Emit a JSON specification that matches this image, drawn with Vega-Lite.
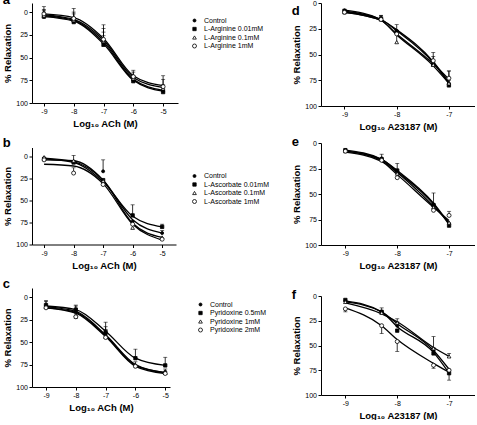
{
"$schema": "https://vega.github.io/schema/vega-lite/v6.json",
"padding": {"left": 2, "top": -6, "right": 0, "bottom": 0},
"config": {
 "view": {"stroke": null},
 "font": "Liberation Sans",
 "axis": {"domainColor": "black", "tickColor": "black", "labelColor": "black", "titleColor": "black", "labelFontSize": 7, "titleFontSize": 9.5, "titleFontWeight": "bold", "tickSize": 3, "labelPadding": 1.5, "grid": false, "domainWidth": 1, "tickWidth": 1, "labelFont": "Liberation Sans", "titleFont": "Liberation Sans", "labelOverlap": false},
 "axisY": {"titlePadding": 3},
 "axisX": {"titlePadding": 4},
 "title": {"fontSize": 13, "fontWeight": "bold", "anchor": "start", "frame": "bounds", "font": "Liberation Sans", "color": "black", "baseline": "alphabetic"},
 "legend": {"labelFontSize": 7, "labelFont": "Liberation Sans", "labelColor": "black", "symbolStrokeColor": "black", "symbolStrokeWidth": 0.8, "rowPadding": 0.5, "labelOffset": 6, "padding": 0, "orient": "none", "direction": "vertical", "title": null}
},
"datasets": {"pts": [
{"p":"a","s":"Control","x":-9,"v":5,"f":4,"e":-3},{"p":"a","s":"Control","x":-8,"v":10,"f":9,"e":2},{"p":"a","s":"Control","x":-7,"v":34,"f":33,"e":22},{"p":"a","s":"Control","x":-6,"v":75,"f":74,"e":70},{"p":"a","s":"Control","x":-5,"v":87,"f":86,"e":80},
{"p":"a","s":"L-Arginine 0.01mM","x":-9,"v":5,"f":5,"e":0},{"p":"a","s":"L-Arginine 0.01mM","x":-8,"v":11,"f":10,"e":6},{"p":"a","s":"L-Arginine 0.01mM","x":-7,"v":36,"f":35,"e":26},{"p":"a","s":"L-Arginine 0.01mM","x":-6,"v":76,"f":75,"e":72},{"p":"a","s":"L-Arginine 0.01mM","x":-5,"v":88,"f":87,"e":84},
{"p":"a","s":"L-Arginine 0.1mM","x":-9,"v":4,"f":3,"e":-6},{"p":"a","s":"L-Arginine 0.1mM","x":-8,"v":9,"f":8,"e":-4},{"p":"a","s":"L-Arginine 0.1mM","x":-7,"v":32,"f":31,"e":14},{"p":"a","s":"L-Arginine 0.1mM","x":-6,"v":73,"f":72,"e":64},{"p":"a","s":"L-Arginine 0.1mM","x":-5,"v":84,"f":83,"e":70},
{"p":"a","s":"L-Arginine 1mM","x":-9,"v":2,"f":2,"e":-2},{"p":"a","s":"L-Arginine 1mM","x":-8,"v":7,"f":6,"e":0},{"p":"a","s":"L-Arginine 1mM","x":-7,"v":30,"f":29,"e":18},{"p":"a","s":"L-Arginine 1mM","x":-6,"v":71,"f":70,"e":66},{"p":"a","s":"L-Arginine 1mM","x":-5,"v":82,"f":81,"e":74},
{"p":"b","s":"Control","x":-9,"v":2,"f":2},{"p":"b","s":"Control","x":-8,"v":6,"f":6},{"p":"b","s":"Control","x":-7,"v":17,"f":27,"e":4},{"p":"b","s":"Control","x":-6,"v":74,"f":72},{"p":"b","s":"Control","x":-5,"v":87,"f":87,"e":84},
{"p":"b","s":"L-Ascorbate 0.01mM","x":-9,"v":3,"f":3},{"p":"b","s":"L-Ascorbate 0.01mM","x":-8,"v":7,"f":7,"e":-1},{"p":"b","s":"L-Ascorbate 0.01mM","x":-7,"v":27,"f":29},{"p":"b","s":"L-Ascorbate 0.01mM","x":-6,"v":67,"f":68,"e":55},{"p":"b","s":"L-Ascorbate 0.01mM","x":-5,"v":80,"f":80,"e":77},
{"p":"b","s":"L-Ascorbate 0.1mM","x":-9,"v":1,"f":4},{"p":"b","s":"L-Ascorbate 0.1mM","x":-8,"v":5,"f":5},{"p":"b","s":"L-Ascorbate 0.1mM","x":-7,"v":28,"f":27},{"p":"b","s":"L-Ascorbate 0.1mM","x":-6,"v":81,"f":76},{"p":"b","s":"L-Ascorbate 0.1mM","x":-5,"v":92,"f":92},
{"p":"b","s":"L-Ascorbate 1mM","x":-9,"v":4,"f":9},{"p":"b","s":"L-Ascorbate 1mM","x":-8,"v":19,"f":11,"e":13},{"p":"b","s":"L-Ascorbate 1mM","x":-7,"v":32,"f":31},{"p":"b","s":"L-Ascorbate 1mM","x":-6,"v":77,"f":77},{"p":"b","s":"L-Ascorbate 1mM","x":-5,"v":94,"f":95},
{"p":"c","s":"Control","x":-9,"v":10,"f":11,"e":5},{"p":"c","s":"Control","x":-8,"v":17,"f":16,"e":10},{"p":"c","s":"Control","x":-7,"v":42,"f":42,"e":33},{"p":"c","s":"Control","x":-6,"v":76,"f":75,"e":72},{"p":"c","s":"Control","x":-5,"v":83,"f":84,"e":80},
{"p":"c","s":"Pyridoxine 0.5mM","x":-9,"v":9,"f":10,"e":4},{"p":"c","s":"Pyridoxine 0.5mM","x":-8,"v":14,"f":14,"e":9},{"p":"c","s":"Pyridoxine 0.5mM","x":-7,"v":39,"f":38,"e":28},{"p":"c","s":"Pyridoxine 0.5mM","x":-6,"v":68,"f":68,"e":58},{"p":"c","s":"Pyridoxine 0.5mM","x":-5,"v":76,"f":76,"e":67},
{"p":"c","s":"Pyridoxine 1mM","x":-9,"v":11,"f":12},{"p":"c","s":"Pyridoxine 1mM","x":-8,"v":20,"f":17,"e":24},{"p":"c","s":"Pyridoxine 1mM","x":-7,"v":44,"f":43,"e":36},{"p":"c","s":"Pyridoxine 1mM","x":-6,"v":76,"f":76},{"p":"c","s":"Pyridoxine 1mM","x":-5,"v":84,"f":84,"e":86},
{"p":"c","s":"Pyridoxine 2mM","x":-9,"v":12,"f":12},{"p":"c","s":"Pyridoxine 2mM","x":-8,"v":22,"f":18},{"p":"c","s":"Pyridoxine 2mM","x":-7,"v":45,"f":44},{"p":"c","s":"Pyridoxine 2mM","x":-6,"v":77,"f":77},{"p":"c","s":"Pyridoxine 2mM","x":-5,"v":85,"f":85},
{"p":"d","s":"Control","x":-9,"v":7,"f":7},{"p":"d","s":"Control","x":-8.3,"v":15,"f":16,"e":12},{"p":"d","s":"Control","x":-8,"v":27,"f":26,"e":21},{"p":"d","s":"Control","x":-7.3,"v":58,"f":57,"e":48},{"p":"d","s":"Control","x":-7,"v":78,"f":77,"e":66},
{"p":"d","s":"L-Arginine 0.01mM","x":-9,"v":8,"f":8},{"p":"d","s":"L-Arginine 0.01mM","x":-8.3,"v":15,"f":16,"e":12},{"p":"d","s":"L-Arginine 0.01mM","x":-8,"v":28,"f":27},{"p":"d","s":"L-Arginine 0.01mM","x":-7.3,"v":60,"f":58,"e":52},{"p":"d","s":"L-Arginine 0.01mM","x":-7,"v":80,"f":78,"e":75},
{"p":"d","s":"L-Arginine 0.1mM","x":-9,"v":9,"f":9,"e":6},{"p":"d","s":"L-Arginine 0.1mM","x":-8.3,"v":16,"f":17},{"p":"d","s":"L-Arginine 0.1mM","x":-8,"v":38,"f":31,"e":29},{"p":"d","s":"L-Arginine 0.1mM","x":-7.3,"v":60,"f":61},{"p":"d","s":"L-Arginine 0.1mM","x":-7,"v":78,"f":78},
{"p":"d","s":"L-Arginine 1mM","x":-9,"v":9,"f":9},{"p":"d","s":"L-Arginine 1mM","x":-8.3,"v":16,"f":17},{"p":"d","s":"L-Arginine 1mM","x":-8,"v":30,"f":30},{"p":"d","s":"L-Arginine 1mM","x":-7.3,"v":56,"f":59},{"p":"d","s":"L-Arginine 1mM","x":-7,"v":73,"f":74,"e":66},
{"p":"e","s":"Control","x":-9,"v":7,"f":7},{"p":"e","s":"Control","x":-8.3,"v":15,"f":16,"e":11},{"p":"e","s":"Control","x":-8,"v":28,"f":27,"e":20},{"p":"e","s":"Control","x":-7.3,"v":60,"f":59,"e":49},{"p":"e","s":"Control","x":-7,"v":79,"f":79},
{"p":"e","s":"L-Ascorbate 0.01mM","x":-9,"v":7,"f":8},{"p":"e","s":"L-Ascorbate 0.01mM","x":-8.3,"v":16,"f":16},{"p":"e","s":"L-Ascorbate 0.01mM","x":-8,"v":27,"f":28},{"p":"e","s":"L-Ascorbate 0.01mM","x":-7.3,"v":61,"f":60},{"p":"e","s":"L-Ascorbate 0.01mM","x":-7,"v":81,"f":80},
{"p":"e","s":"L-Ascorbate 0.1mM","x":-9,"v":8,"f":8},{"p":"e","s":"L-Ascorbate 0.1mM","x":-8.3,"v":16,"f":17},{"p":"e","s":"L-Ascorbate 0.1mM","x":-8,"v":30,"f":29},{"p":"e","s":"L-Ascorbate 0.1mM","x":-7.3,"v":63,"f":62},{"p":"e","s":"L-Ascorbate 0.1mM","x":-7,"v":78,"f":78},
{"p":"e","s":"L-Ascorbate 1mM","x":-9,"v":8,"f":9},{"p":"e","s":"L-Ascorbate 1mM","x":-8.3,"v":17,"f":18},{"p":"e","s":"L-Ascorbate 1mM","x":-8,"v":34,"f":31},{"p":"e","s":"L-Ascorbate 1mM","x":-7.3,"v":66,"f":63},{"p":"e","s":"L-Ascorbate 1mM","x":-7,"v":71,"f":76,"e":67},
{"p":"f","s":"Control","x":-9,"v":5,"f":6},{"p":"f","s":"Control","x":-8.3,"v":16,"f":16,"e":12},{"p":"f","s":"Control","x":-8,"v":30,"f":28,"e":26},{"p":"f","s":"Control","x":-7.3,"v":55,"f":55},{"p":"f","s":"Control","x":-7,"v":75,"f":74},
{"p":"f","s":"Pyridoxine 0.5mM","x":-9,"v":4,"f":5},{"p":"f","s":"Pyridoxine 0.5mM","x":-8.3,"v":16,"f":16},{"p":"f","s":"Pyridoxine 0.5mM","x":-8,"v":35,"f":31},{"p":"f","s":"Pyridoxine 0.5mM","x":-7.3,"v":58,"f":57,"e":52},{"p":"f","s":"Pyridoxine 0.5mM","x":-7,"v":78,"f":78,"e":85},
{"p":"f","s":"Pyridoxine 1mM","x":-9,"v":6,"f":7},{"p":"f","s":"Pyridoxine 1mM","x":-8.3,"v":17,"f":18},{"p":"f","s":"Pyridoxine 1mM","x":-8,"v":27,"f":26,"e":23},{"p":"f","s":"Pyridoxine 1mM","x":-7.3,"v":53,"f":52,"e":41},{"p":"f","s":"Pyridoxine 1mM","x":-7,"v":61,"f":61,"e":58},
{"p":"f","s":"Pyridoxine 2mM","x":-9,"v":13,"f":12,"e":16},{"p":"f","s":"Pyridoxine 2mM","x":-8.3,"v":30,"f":30,"e":38},{"p":"f","s":"Pyridoxine 2mM","x":-8,"v":46,"f":44,"e":56},{"p":"f","s":"Pyridoxine 2mM","x":-7.3,"v":70,"f":68,"e":73},{"p":"f","s":"Pyridoxine 2mM","x":-7,"v":75,"f":77}
]},
"resolve": {"scale": {"shape": "independent", "fill": "independent", "size": "independent", "stroke": "independent"}, "legend": {"shape": "independent", "fill": "independent", "size": "independent", "stroke": "independent"}},
"spacing": 22,
"hconcat": [
{"spacing": 8.5,
 "resolve": {"scale": {"shape": "independent", "fill": "independent", "size": "independent", "stroke": "independent"}, "legend": {"shape": "independent", "fill": "independent", "size": "independent", "stroke": "independent"}},
 "vconcat": [
 {"width": 146, "height": 100, "title": {"text": "a", "offset": -4},
  "data": {"name": "pts"}, "transform": [{"filter": "datum.p == 'a'"}],
  "encoding": {"x": {"field": "x", "type": "quantitative", "scale": {"domain": [-9.4, -4.5], "nice": false, "zero": false}, "axis": {"values": [-9, -8, -7, -6, -5], "labelExpr": "'' + datum.value", "title": "Log₁₀ ACh (M)"}}},
  "layer": [
   {"mark": {"type": "rule", "color": "black", "strokeWidth": 0.8}, "encoding": {"y": {"field": "v", "type": "quantitative", "scale": {"domain": [-10, 100], "reverse": true, "nice": false, "zero": false}, "axis": {"values": [0, 25, 50, 75, 100], "title": "% Relaxation"}}, "y2": {"field": "e"}}},
   {"mark": {"type": "tick", "orient": "horizontal", "color": "black", "size": 4, "thickness": 0.8}, "encoding": {"y": {"field": "e", "type": "quantitative", "scale": {"domain": [-10, 100], "reverse": true, "nice": false, "zero": false}, "axis": {"values": [0, 25, 50, 75, 100], "title": "% Relaxation"}}}},
   {"mark": {"type": "line", "interpolate": "monotone", "color": "black", "strokeWidth": 1.3}, "encoding": {"y": {"field": "f", "type": "quantitative", "scale": {"domain": [-10, 100], "reverse": true, "nice": false, "zero": false}, "axis": {"values": [0, 25, 50, 75, 100], "title": "% Relaxation"}}, "detail": {"field": "s"}}},
   {"mark": {"type": "point", "filled": true, "strokeWidth": 0.8, "opacity": 1}, "encoding": {"y": {"field": "v", "type": "quantitative", "scale": {"domain": [-10, 100], "reverse": true, "nice": false, "zero": false}, "axis": {"values": [0, 25, 50, 75, 100], "title": "% Relaxation"}},
     "shape": {"field": "s", "type": "ordinal", "scale": {"domain": ["Control", "L-Arginine 0.01mM", "L-Arginine 0.1mM", "L-Arginine 1mM"], "range": ["circle", "square", "triangle-up", "circle"]}, "legend": {"legendX": 159, "legendY": 14, "labelColor": "black"}},
     "fill": {"field": "s", "type": "ordinal", "scale": {"domain": ["Control", "L-Arginine 0.01mM", "L-Arginine 0.1mM", "L-Arginine 1mM"], "range": ["black", "black", "white", "white"]}, "legend": {"legendX": 159, "legendY": 14, "labelColor": "black"}},
     "stroke": {"field": "s", "type": "ordinal", "scale": {"domain": ["Control", "L-Arginine 0.01mM", "L-Arginine 0.1mM", "L-Arginine 1mM"], "range": ["black", "black", "black", "black"]}, "legend": {"legendX": 159, "legendY": 14, "labelColor": "black"}},
     "size": {"field": "s", "type": "ordinal", "scale": {"domain": ["Control", "L-Arginine 0.01mM", "L-Arginine 0.1mM", "L-Arginine 1mM"], "range": [9, 16, 18, 14]}, "legend": {"legendX": 159, "legendY": 14, "labelColor": "black"}}}}
  ]},
 {"width": 144, "height": 97, "title": {"text": "b", "offset": -2},
  "data": {"name": "pts"}, "transform": [{"filter": "datum.p == 'b'"}],
  "encoding": {"x": {"field": "x", "type": "quantitative", "scale": {"domain": [-9.41, -4.53], "nice": false, "zero": false}, "axis": {"values": [-9, -8, -7, -6, -5], "labelExpr": "'' + datum.value", "title": "Log₁₀ ACh (M)"}}},
  "layer": [
   {"mark": {"type": "rule", "color": "black", "strokeWidth": 0.8}, "encoding": {"y": {"field": "v", "type": "quantitative", "scale": {"domain": [-10, 100], "reverse": true, "nice": false, "zero": false}, "axis": {"values": [0, 25, 50, 75, 100], "title": "% Relaxation"}}, "y2": {"field": "e"}}},
   {"mark": {"type": "tick", "orient": "horizontal", "color": "black", "size": 4, "thickness": 0.8}, "encoding": {"y": {"field": "e", "type": "quantitative", "scale": {"domain": [-10, 100], "reverse": true, "nice": false, "zero": false}, "axis": {"values": [0, 25, 50, 75, 100], "title": "% Relaxation"}}}},
   {"mark": {"type": "line", "interpolate": "monotone", "color": "black", "strokeWidth": 1.3}, "encoding": {"y": {"field": "f", "type": "quantitative", "scale": {"domain": [-10, 100], "reverse": true, "nice": false, "zero": false}, "axis": {"values": [0, 25, 50, 75, 100], "title": "% Relaxation"}}, "detail": {"field": "s"}}},
   {"mark": {"type": "point", "filled": true, "strokeWidth": 0.8, "opacity": 1}, "encoding": {"y": {"field": "v", "type": "quantitative", "scale": {"domain": [-10, 100], "reverse": true, "nice": false, "zero": false}, "axis": {"values": [0, 25, 50, 75, 100], "title": "% Relaxation"}},
     "shape": {"field": "s", "type": "ordinal", "scale": {"domain": ["Control", "L-Ascorbate 0.01mM", "L-Ascorbate 0.1mM", "L-Ascorbate 1mM"], "range": ["circle", "square", "triangle-up", "circle"]}, "legend": {"legendX": 159, "legendY": 25, "labelColor": "black"}},
     "fill": {"field": "s", "type": "ordinal", "scale": {"domain": ["Control", "L-Ascorbate 0.01mM", "L-Ascorbate 0.1mM", "L-Ascorbate 1mM"], "range": ["black", "black", "white", "white"]}, "legend": {"legendX": 159, "legendY": 25, "labelColor": "black"}},
     "stroke": {"field": "s", "type": "ordinal", "scale": {"domain": ["Control", "L-Ascorbate 0.01mM", "L-Ascorbate 0.1mM", "L-Ascorbate 1mM"], "range": ["black", "black", "black", "black"]}, "legend": {"legendX": 159, "legendY": 25, "labelColor": "black"}},
     "size": {"field": "s", "type": "ordinal", "scale": {"domain": ["Control", "L-Ascorbate 0.01mM", "L-Ascorbate 0.1mM", "L-Ascorbate 1mM"], "range": [9, 16, 18, 14]}, "legend": {"legendX": 159, "legendY": 25, "labelColor": "black"}}}}
  ]},
 {"width": 138, "height": 99, "title": {"text": "c", "offset": -3},
  "data": {"name": "pts"}, "transform": [{"filter": "datum.p == 'c'"}],
  "encoding": {"x": {"field": "x", "type": "quantitative", "scale": {"domain": [-9.47, -4.84], "nice": false, "zero": false}, "axis": {"values": [-9, -8, -7, -6, -5], "labelExpr": "'' + datum.value", "title": "Log₁₀ ACh (M)"}}},
  "layer": [
   {"mark": {"type": "rule", "color": "black", "strokeWidth": 0.8}, "encoding": {"y": {"field": "v", "type": "quantitative", "scale": {"domain": [-10, 100], "reverse": true, "nice": false, "zero": false}, "axis": {"values": [0, 25, 50, 75, 100], "title": "% Relaxation"}}, "y2": {"field": "e"}}},
   {"mark": {"type": "tick", "orient": "horizontal", "color": "black", "size": 4, "thickness": 0.8}, "encoding": {"y": {"field": "e", "type": "quantitative", "scale": {"domain": [-10, 100], "reverse": true, "nice": false, "zero": false}, "axis": {"values": [0, 25, 50, 75, 100], "title": "% Relaxation"}}}},
   {"mark": {"type": "line", "interpolate": "monotone", "color": "black", "strokeWidth": 1.3}, "encoding": {"y": {"field": "f", "type": "quantitative", "scale": {"domain": [-10, 100], "reverse": true, "nice": false, "zero": false}, "axis": {"values": [0, 25, 50, 75, 100], "title": "% Relaxation"}}, "detail": {"field": "s"}}},
   {"mark": {"type": "point", "filled": true, "strokeWidth": 0.8, "opacity": 1}, "encoding": {"y": {"field": "v", "type": "quantitative", "scale": {"domain": [-10, 100], "reverse": true, "nice": false, "zero": false}, "axis": {"values": [0, 25, 50, 75, 100], "title": "% Relaxation"}},
     "shape": {"field": "s", "type": "ordinal", "scale": {"domain": ["Control", "Pyridoxine 0.5mM", "Pyridoxine 1mM", "Pyridoxine 2mM"], "range": ["circle", "square", "triangle-up", "circle"]}, "legend": {"legendX": 165, "legendY": 13, "labelColor": "black"}},
     "fill": {"field": "s", "type": "ordinal", "scale": {"domain": ["Control", "Pyridoxine 0.5mM", "Pyridoxine 1mM", "Pyridoxine 2mM"], "range": ["black", "black", "white", "white"]}, "legend": {"legendX": 165, "legendY": 13, "labelColor": "black"}},
     "stroke": {"field": "s", "type": "ordinal", "scale": {"domain": ["Control", "Pyridoxine 0.5mM", "Pyridoxine 1mM", "Pyridoxine 2mM"], "range": ["black", "black", "black", "black"]}, "legend": {"legendX": 165, "legendY": 13, "labelColor": "black"}},
     "size": {"field": "s", "type": "ordinal", "scale": {"domain": ["Control", "Pyridoxine 0.5mM", "Pyridoxine 1mM", "Pyridoxine 2mM"], "range": [9, 16, 18, 14]}, "legend": {"legendX": 165, "legendY": 13, "labelColor": "black"}}}}
  ]}
 ]},
{"spacing": 5,
 "resolve": {"scale": {"shape": "independent", "fill": "independent", "size": "independent", "stroke": "independent"}, "legend": {"shape": "independent", "fill": "independent", "size": "independent", "stroke": "independent"}},
 "vconcat": [
 {"width": 154, "height": 103, "title": {"text": "d", "offset": -19},
  "data": {"name": "pts"}, "transform": [{"filter": "datum.p == 'd'"}],
  "encoding": {"x": {"field": "x", "type": "quantitative", "scale": {"domain": [-9.45, -6.5], "nice": false, "zero": false}, "axis": {"values": [-9, -8, -7], "labelExpr": "'' + datum.value", "title": "Log₁₀ A23187 (M)"}}},
  "layer": [
   {"mark": {"type": "rule", "color": "black", "strokeWidth": 0.8}, "encoding": {"y": {"field": "v", "type": "quantitative", "scale": {"domain": [0, 100], "reverse": true, "nice": false, "zero": false}, "axis": {"values": [0, 25, 50, 75, 100], "title": "% Relaxation"}}, "y2": {"field": "e"}}},
   {"mark": {"type": "tick", "orient": "horizontal", "color": "black", "size": 4, "thickness": 0.8}, "encoding": {"y": {"field": "e", "type": "quantitative", "scale": {"domain": [0, 100], "reverse": true, "nice": false, "zero": false}, "axis": {"values": [0, 25, 50, 75, 100], "title": "% Relaxation"}}}},
   {"mark": {"type": "line", "interpolate": "monotone", "color": "black", "strokeWidth": 1.3}, "encoding": {"y": {"field": "f", "type": "quantitative", "scale": {"domain": [0, 100], "reverse": true, "nice": false, "zero": false}, "axis": {"values": [0, 25, 50, 75, 100], "title": "% Relaxation"}}, "detail": {"field": "s"}}},
   {"mark": {"type": "point", "filled": true, "strokeWidth": 0.8, "opacity": 1}, "encoding": {"y": {"field": "v", "type": "quantitative", "scale": {"domain": [0, 100], "reverse": true, "nice": false, "zero": false}, "axis": {"values": [0, 25, 50, 75, 100], "title": "% Relaxation"}},
     "shape": {"field": "s", "type": "ordinal", "scale": {"domain": ["Control", "L-Arginine 0.01mM", "L-Arginine 0.1mM", "L-Arginine 1mM"], "range": ["circle", "square", "triangle-up", "circle"]}, "legend": null},
     "fill": {"field": "s", "type": "ordinal", "scale": {"domain": ["Control", "L-Arginine 0.01mM", "L-Arginine 0.1mM", "L-Arginine 1mM"], "range": ["black", "black", "white", "white"]}, "legend": null},
     "stroke": {"field": "s", "type": "ordinal", "scale": {"domain": ["Control", "L-Arginine 0.01mM", "L-Arginine 0.1mM", "L-Arginine 1mM"], "range": ["black", "black", "black", "black"]}, "legend": null},
     "size": {"field": "s", "type": "ordinal", "scale": {"domain": ["Control", "L-Arginine 0.01mM", "L-Arginine 0.1mM", "L-Arginine 1mM"], "range": [9, 16, 18, 14]}, "legend": null}}}
  ]},
 {"width": 154, "height": 102, "title": {"text": "e", "offset": -10},
  "data": {"name": "pts"}, "transform": [{"filter": "datum.p == 'e'"}],
  "encoding": {"x": {"field": "x", "type": "quantitative", "scale": {"domain": [-9.47, -6.5], "nice": false, "zero": false}, "axis": {"values": [-9, -8, -7], "labelExpr": "'' + datum.value", "title": "Log₁₀ A23187 (M)"}}},
  "layer": [
   {"mark": {"type": "rule", "color": "black", "strokeWidth": 0.8}, "encoding": {"y": {"field": "v", "type": "quantitative", "scale": {"domain": [0, 100], "reverse": true, "nice": false, "zero": false}, "axis": {"values": [0, 25, 50, 75, 100], "title": "% Relaxation"}}, "y2": {"field": "e"}}},
   {"mark": {"type": "tick", "orient": "horizontal", "color": "black", "size": 4, "thickness": 0.8}, "encoding": {"y": {"field": "e", "type": "quantitative", "scale": {"domain": [0, 100], "reverse": true, "nice": false, "zero": false}, "axis": {"values": [0, 25, 50, 75, 100], "title": "% Relaxation"}}}},
   {"mark": {"type": "line", "interpolate": "monotone", "color": "black", "strokeWidth": 1.3}, "encoding": {"y": {"field": "f", "type": "quantitative", "scale": {"domain": [0, 100], "reverse": true, "nice": false, "zero": false}, "axis": {"values": [0, 25, 50, 75, 100], "title": "% Relaxation"}}, "detail": {"field": "s"}}},
   {"mark": {"type": "point", "filled": true, "strokeWidth": 0.8, "opacity": 1}, "encoding": {"y": {"field": "v", "type": "quantitative", "scale": {"domain": [0, 100], "reverse": true, "nice": false, "zero": false}, "axis": {"values": [0, 25, 50, 75, 100], "title": "% Relaxation"}},
     "shape": {"field": "s", "type": "ordinal", "scale": {"domain": ["Control", "L-Ascorbate 0.01mM", "L-Ascorbate 0.1mM", "L-Ascorbate 1mM"], "range": ["circle", "square", "triangle-up", "circle"]}, "legend": null},
     "fill": {"field": "s", "type": "ordinal", "scale": {"domain": ["Control", "L-Ascorbate 0.01mM", "L-Ascorbate 0.1mM", "L-Ascorbate 1mM"], "range": ["black", "black", "white", "white"]}, "legend": null},
     "stroke": {"field": "s", "type": "ordinal", "scale": {"domain": ["Control", "L-Ascorbate 0.01mM", "L-Ascorbate 0.1mM", "L-Ascorbate 1mM"], "range": ["black", "black", "black", "black"]}, "legend": null},
     "size": {"field": "s", "type": "ordinal", "scale": {"domain": ["Control", "L-Ascorbate 0.01mM", "L-Ascorbate 0.1mM", "L-Ascorbate 1mM"], "range": [9, 16, 18, 14]}, "legend": null}}}
  ]},
 {"width": 154, "height": 99, "title": {"text": ["", "f"], "offset": -10, "lineHeight": 14},
  "data": {"name": "pts"}, "transform": [{"filter": "datum.p == 'f'"}],
  "encoding": {"x": {"field": "x", "type": "quantitative", "scale": {"domain": [-9.47, -6.5], "nice": false, "zero": false}, "axis": {"values": [-9, -8, -7], "labelExpr": "'' + datum.value", "title": "Log₁₀ A23187 (M)"}}},
  "layer": [
   {"mark": {"type": "rule", "color": "black", "strokeWidth": 0.8}, "encoding": {"y": {"field": "v", "type": "quantitative", "scale": {"domain": [0, 100], "reverse": true, "nice": false, "zero": false}, "axis": {"values": [0, 25, 50, 75, 100], "title": "% Relaxation"}}, "y2": {"field": "e"}}},
   {"mark": {"type": "tick", "orient": "horizontal", "color": "black", "size": 4, "thickness": 0.8}, "encoding": {"y": {"field": "e", "type": "quantitative", "scale": {"domain": [0, 100], "reverse": true, "nice": false, "zero": false}, "axis": {"values": [0, 25, 50, 75, 100], "title": "% Relaxation"}}}},
   {"mark": {"type": "line", "interpolate": "monotone", "color": "black", "strokeWidth": 1.3}, "encoding": {"y": {"field": "f", "type": "quantitative", "scale": {"domain": [0, 100], "reverse": true, "nice": false, "zero": false}, "axis": {"values": [0, 25, 50, 75, 100], "title": "% Relaxation"}}, "detail": {"field": "s"}}},
   {"mark": {"type": "point", "filled": true, "strokeWidth": 0.8, "opacity": 1}, "encoding": {"y": {"field": "v", "type": "quantitative", "scale": {"domain": [0, 100], "reverse": true, "nice": false, "zero": false}, "axis": {"values": [0, 25, 50, 75, 100], "title": "% Relaxation"}},
     "shape": {"field": "s", "type": "ordinal", "scale": {"domain": ["Control", "Pyridoxine 0.5mM", "Pyridoxine 1mM", "Pyridoxine 2mM"], "range": ["circle", "square", "triangle-up", "circle"]}, "legend": null},
     "fill": {"field": "s", "type": "ordinal", "scale": {"domain": ["Control", "Pyridoxine 0.5mM", "Pyridoxine 1mM", "Pyridoxine 2mM"], "range": ["black", "black", "white", "white"]}, "legend": null},
     "stroke": {"field": "s", "type": "ordinal", "scale": {"domain": ["Control", "Pyridoxine 0.5mM", "Pyridoxine 1mM", "Pyridoxine 2mM"], "range": ["black", "black", "black", "black"]}, "legend": null},
     "size": {"field": "s", "type": "ordinal", "scale": {"domain": ["Control", "Pyridoxine 0.5mM", "Pyridoxine 1mM", "Pyridoxine 2mM"], "range": [9, 16, 18, 14]}, "legend": null}}}
  ]}
 ]}
]
}
